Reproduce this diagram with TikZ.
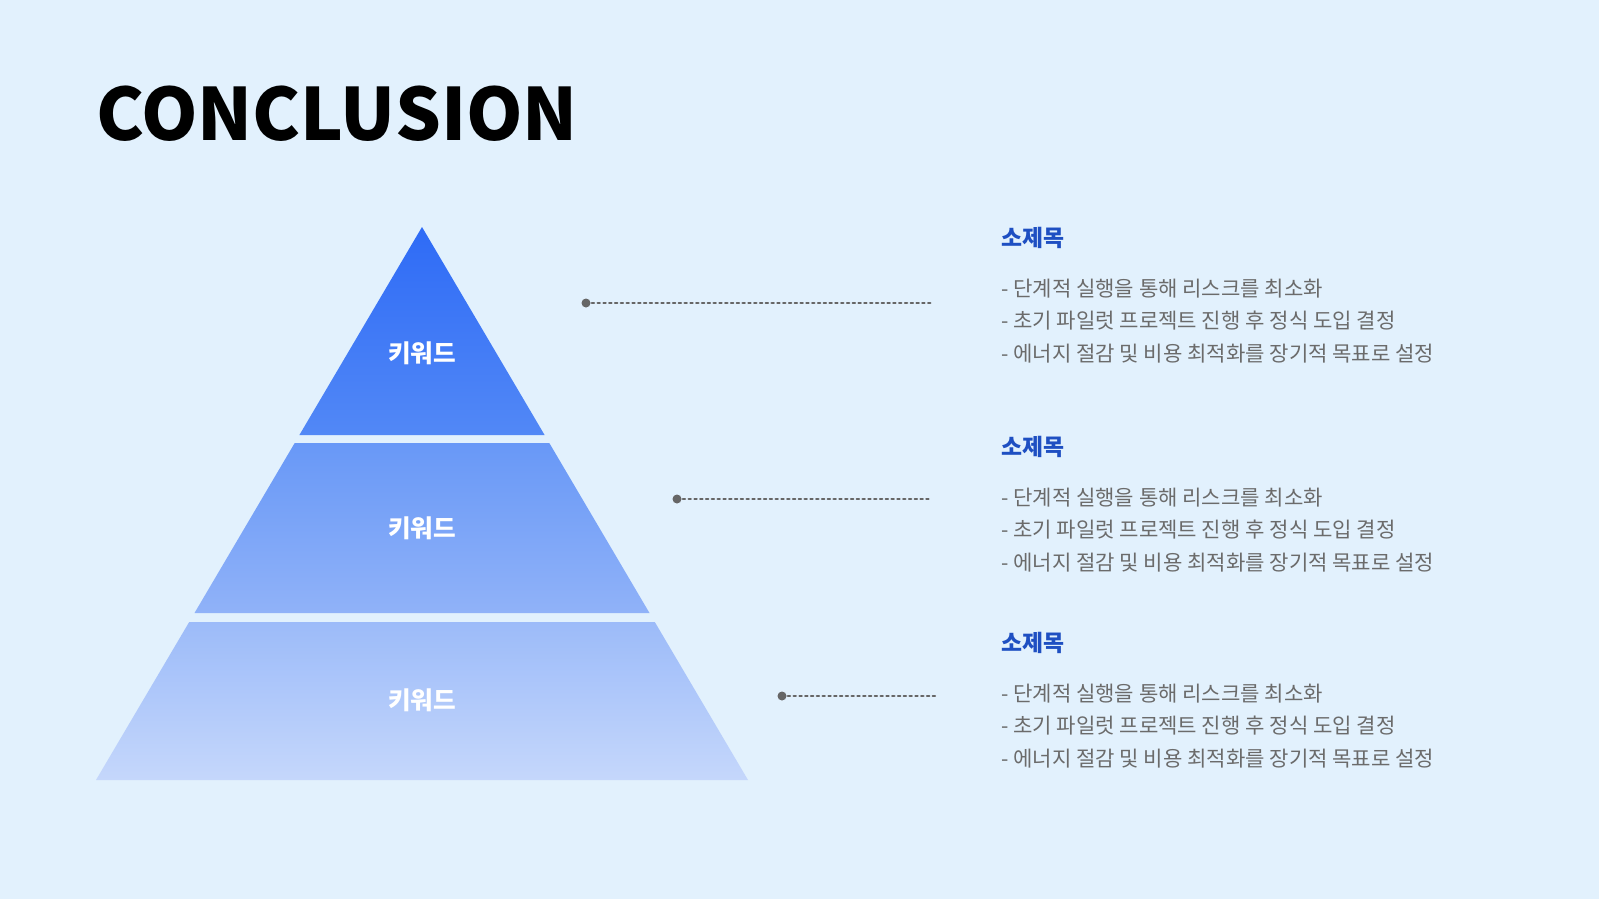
\documentclass[tikz,border=0pt]{standalone}
\usepackage{fontspec}
\setmainfont{Noto Sans CJK KR}
\usetikzlibrary{positioning}
\definecolor{bg}{HTML}{E2F1FD}
\definecolor{subblue}{HTML}{1E4FC2}
\definecolor{bodygray}{HTML}{6B6B6B}
\definecolor{dotgray}{HTML}{666666}
\tikzset{
  keyword/.style={text=white, font=\fontsize{14}{16}\selectfont\bfseries},
  subtitle/.style={anchor=west, text=subblue, font=\fontsize{13}{15}\selectfont\bfseries},
  bullet/.style={anchor=west, text=bodygray, font=\fontsize{12}{14}\selectfont},
  leader/.style={dotgray, line width=1.3pt, dotted, line cap=round},
}
\begin{document}
\begin{tikzpicture}[x=0.02cm, y=-0.02cm]
	\fill[bg] (0,0) rectangle (1599,899);
	\node[anchor=west, font=\fontsize{41}{44}\selectfont\bfseries] (title) at (90,114) {CONCLUSION};
	% pyramid tiers
	\shade[top color={rgb,255:red,46;green,107;blue,246}, bottom color={rgb,255:red,82;green,136;blue,246}]
		(422,227) -- (544.6,435) -- (299.4,435) -- cycle;
	\shade[top color={rgb,255:red,104;green,152;blue,247}, bottom color={rgb,255:red,144;green,178;blue,248}]
		(294.7,443) -- (549.3,443) -- (649.5,613) -- (194.5,613) -- cycle;
	\shade[top color={rgb,255:red,156;green,187;blue,249}, bottom color={rgb,255:red,197;green,215;blue,251}]
		(189.2,622) -- (654.8,622) -- (748,780) -- (96,780) -- cycle;
	\node[keyword] (k1) at (422,353) {키워드};
	\node[keyword] (k2) at (422,528) {키워드};
	\node[keyword] (k3) at (422,700) {키워드};
	% leaders
	\coordinate (a1) at (586,303); \coordinate (b1) at (932,303);
	\coordinate (a2) at (677,499); \coordinate (b2) at (932,499);
	\coordinate (a3) at (782,696); \coordinate (b3) at (935,696);
	\foreach \i in {1,2,3} {
		\fill[dotgray] (a\i) circle (4.5);
		\draw[leader] (a\i) -- (b\i);
	}
	% text blocks
	\foreach \i/\y in {1/238, 2/447, 3/643} {
		\node[subtitle] (s\i) at (995,\y) {소제목};
		\node[bullet] (p\i) at (995,\y+51) {- 단계적 실행을 통해 리스크를 최소화};
		\node[bullet] (q\i) at (995,\y+83) {- 초기 파일럿 프로젝트 진행 후 정식 도입 결정};
		\node[bullet] (r\i) at (995,\y+116) {- 에너지 절감 및 비용 최적화를 장기적 목표로 설정};
	}
\end{tikzpicture}
\end{document}
